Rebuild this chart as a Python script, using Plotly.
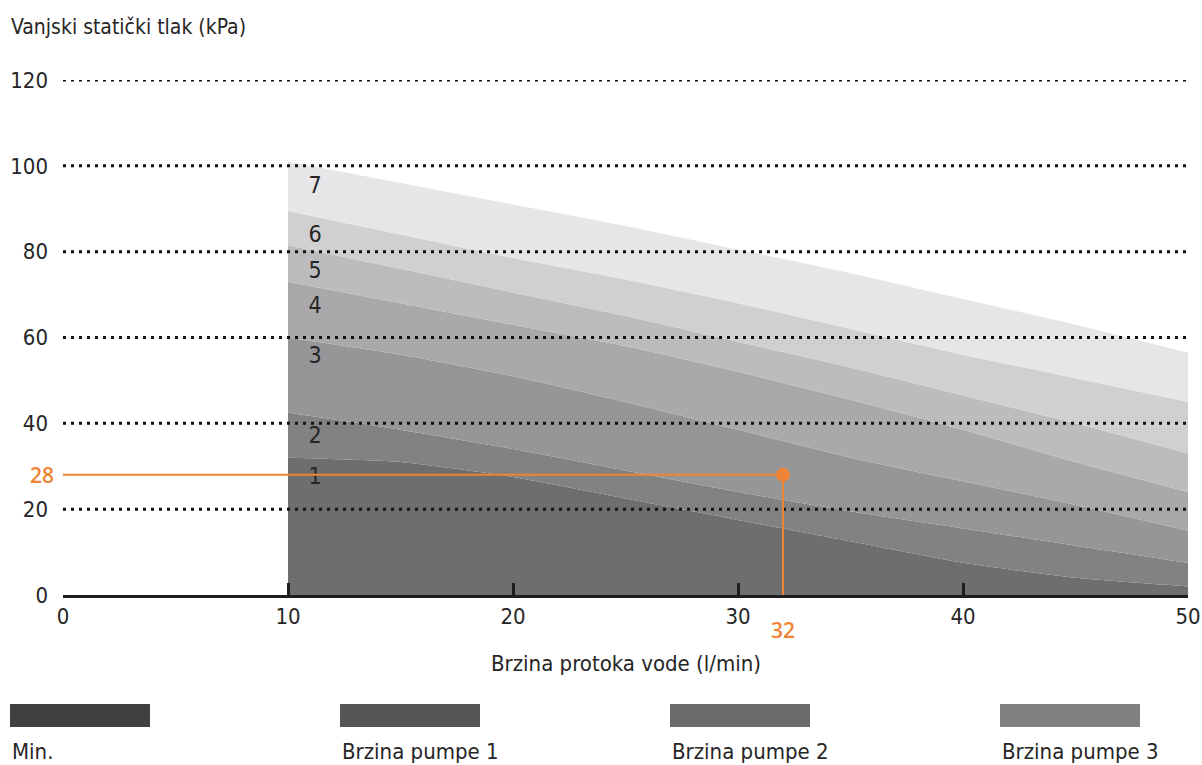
import plotly.graph_objects as go

# ---- data ----
flow = [10, 15, 20, 25, 30, 35, 40, 45, 50]
curve_1 = [32, 31, 27.5, 22.5, 17.5, 12.5, 7.5, 4, 2]
curve_2 = [42.5, 38.5, 34, 29, 24, 19.5, 15.5, 11.5, 7.5]
curve_3 = [60, 56, 51, 45, 38.5, 32, 26.5, 21, 15]
curve_4 = [73, 68, 63, 58, 52, 45.5, 38.5, 31, 24]
curve_5 = [81.5, 76, 70.5, 65, 59, 53, 46.5, 40, 33]
curve_6 = [89.5, 84, 78.5, 73.5, 68, 62, 56, 50.5, 45]
curve_7 = [101, 96, 91, 86, 80.5, 75, 69, 63, 56.5]
curves = [curve_1, curve_2, curve_3, curve_4, curve_5, curve_6, curve_7]
band_colors = ["#6e6e6e", "#828282", "#969698", "#a9a9ab", "#bcbcbe", "#d0d0d2", "#e6e6e8"]

band_labels = ["1", "2", "3", "4", "5", "6", "7"]
band_label_x = [11.2] * 7
band_label_y = [27.3, 36.8, 55.5, 67, 75.2, 83.5, 95]

x_ticks = [0, 10, 20, 30, 40, 50]
y_ticks = [0, 20, 40, 60, 80, 100, 120]
grid_values = [20, 40, 60, 80, 100, 120]

op_flow = 32
op_pressure = 28

legend_labels = ["Min.", "Brzina pumpe 1", "Brzina pumpe 2", "Brzina pumpe 3"]
legend_colors = ["#404040", "#555555", "#6b6b6b", "#808080"]

y_title = "Vanjski statički tlak (kPa)"
x_title = "Brzina protoka vode (l/min)"

FONT = "DejaVu Sans Condensed, Liberation Sans Narrow, sans-serif"
TXT = "#262626"
ORANGE = "#ef8434"

fig = go.Figure()

for i, (c, col) in enumerate(zip(curves, band_colors)):
    fig.add_trace(go.Scatter(
        x=flow, y=c, mode="lines",
        line=dict(width=0, shape="spline", smoothing=0.6),
        fill="tozeroy" if i == 0 else "tonexty",
        fillcolor=col, hoverinfo="skip", showlegend=False,
    ))

# dotted grid lines over the bands
for g in grid_values:
    fig.add_trace(go.Scatter(
        x=[x_ticks[0], x_ticks[-1]], y=[g, g], mode="lines",
        line=dict(color="#111111", width=3, dash="3px,5px"),
        hoverinfo="skip", showlegend=False,
    ))

# band numbers
fig.add_trace(go.Scatter(
    x=band_label_x, y=band_label_y, mode="text", text=band_labels,
    textfont=dict(family=FONT, size=23, color=TXT),
    hoverinfo="skip", showlegend=False,
))

# operating point
fig.add_trace(go.Scatter(
    x=[0, op_flow, op_flow], y=[op_pressure, op_pressure, 0], mode="lines",
    line=dict(color=ORANGE, width=2), hoverinfo="skip", showlegend=False,
))
fig.add_trace(go.Scatter(
    x=[op_flow], y=[op_pressure], mode="markers",
    marker=dict(color=ORANGE, size=14), hoverinfo="skip", showlegend=False,
))

L, R, T, B = 63, 14, 80, 170
W, H = 1202, 765
pw, ph = W - L - R, H - T - B

def px_x(p):
    return (p - L) / pw

def px_y(p):
    return (H - B - p) / ph

annotations = [
    dict(text=y_title, x=px_x(9), y=px_y(27), xref="paper", yref="paper",
         xanchor="left", yanchor="middle", showarrow=False,
         font=dict(family=FONT, size=21, color=TXT)),
    dict(text=x_title, x=25, y=px_y(663), xref="x", yref="paper",
         xanchor="center", yanchor="middle", showarrow=False,
         font=dict(family=FONT, size=22, color=TXT)),
    dict(text=str(op_pressure), x=px_x(42), y=op_pressure, xref="paper", yref="y",
         xanchor="center", yanchor="middle", showarrow=False,
         font=dict(family="Open Sans", size=21, color=ORANGE, weight=600)),
    dict(text=str(op_flow), x=op_flow, y=px_y(630), xref="x", yref="paper",
         xanchor="center", yanchor="middle", showarrow=False,
         font=dict(family="Open Sans", size=21, color=ORANGE, weight=600)),
]

shapes = []
for i, (lab, col) in enumerate(zip(legend_labels, legend_colors)):
    x0 = 10 + i * 330
    shapes.append(dict(type="rect", xref="paper", yref="paper",
                       x0=px_x(x0), x1=px_x(x0 + 140), y0=px_y(727), y1=px_y(704),
                       fillcolor=col, line=dict(width=0)))
    annotations.append(dict(text=lab, x=px_x(x0), y=px_y(751), xref="paper", yref="paper",
                            xanchor="left", yanchor="middle", showarrow=False,
                            font=dict(family=FONT, size=22, color=TXT)))

fig.update_layout(
    width=W, height=H,
    margin=dict(l=L, r=R, t=T, b=B, autoexpand=False),
    plot_bgcolor="white", paper_bgcolor="white",
    shapes=shapes, annotations=annotations,
    xaxis=dict(range=[x_ticks[0], x_ticks[-1]], tickvals=x_ticks,
               automargin=False,
               showgrid=False, zeroline=False,
               showline=True, linecolor="#1e1e1e", linewidth=3,
               ticks="", ticklabelstandoff=0,
               tickfont=dict(family=FONT, size=22, color=TXT),
               minor=dict(tickvals=x_ticks[1:-1], ticks="inside", ticklen=12,
                          tickwidth=2.5, tickcolor="#1e1e1e", showgrid=False)),
    yaxis=dict(range=[y_ticks[0], y_ticks[-1]], tickvals=y_ticks,
               automargin=False,
               showgrid=False, zeroline=False, showline=False,
               ticks="", ticklabelstandoff=14,
               tickfont=dict(family=FONT, size=22, color=TXT)),
)

fig.write_html("out.html",
               config={"displayModeBar": False},
               post_script="document.body.style.margin='0';document.body.style.overflow='hidden';")
